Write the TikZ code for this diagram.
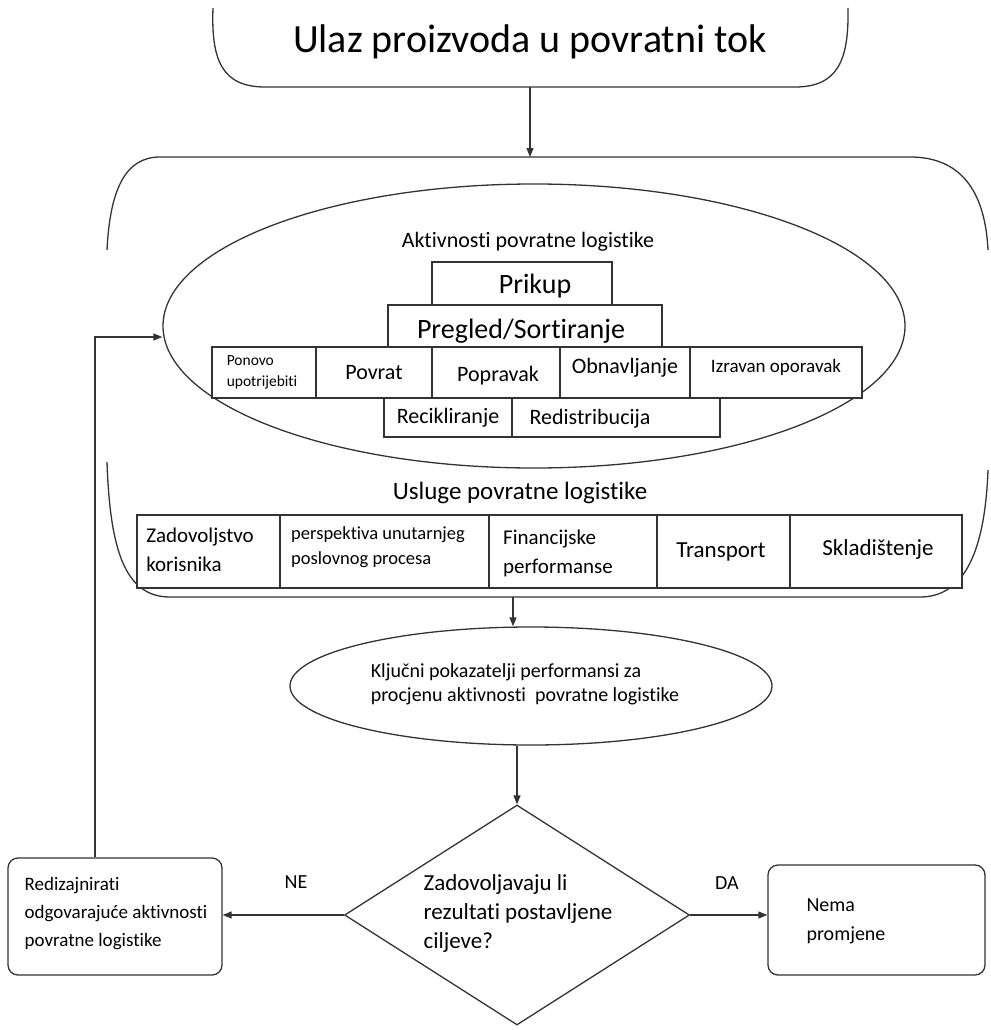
\documentclass[tikz,border=0pt]{standalone}
\usepackage{fontspec}
\setmainfont{Carlito}[Ligatures={NoCommon}]
\usetikzlibrary{shapes.geometric,arrows.meta}
\newcommand\fsz[2]{\fontsize{#1}{#2}\selectfont}
\begin{document}
\begin{tikzpicture}[x=1pt,y=-1pt,
  ln/.style={line width=1.3pt, draw=black!80},
  cell/.style={ln, fill=white, rectangle, inner sep=0pt, align=center},
  arr/.style={ln, -{Triangle[length=9pt,width=7pt]}},
  rbox/.style={ln, rectangle, rounded corners=10pt, inner sep=0pt},
  txt/.style={inner sep=0pt, align=left},
]
\useasboundingbox (0,0) rectangle (990,1030);

% top shape
\draw[ln] (213,8) .. controls (211,60) and (222,87) .. (265,87) -- (795,87) .. controls (838,87) and (849,60) .. (848,8);
\node[font=\fsz{40}{48}] (title) at (530,42) {Ulaz proizvoda u povratni tok};
\coordinate (tb) at (530,87);

% container
\coordinate (ct) at (530,157);
\draw[ln] (107,250) .. controls (110,190) and (125,157) .. (160,157) -- (910,157) .. controls (960,157) and (985,190) .. (988,250);
\draw[ln] (107,462) .. controls (110,550) and (125,597) .. (170,597) -- (920,597) .. controls (965,597) and (985,550) .. (988,470);
\coordinate (cb) at (513,597);
\draw[arr] (tb) -- (ct);

% activities ellipse
\node[ln, ellipse, minimum width=742pt, minimum height=284pt, inner sep=0pt] (act) at (534,326) {};
\node[font=\fsz{22}{26}] (acttitle) at (528,242) {Aktivnosti povratne logistike};

\node[cell, minimum width=180pt, minimum height=43pt] (prikup) at (522,283.5) {};
\node[font=\fsz{28}{32}] (prikupt) at (535,286) {Prikup};
\node[cell, minimum width=274pt, minimum height=42pt] (pregled) at (525,326) {};
\node[font=\fsz{28}{32}] (pregledt) at (521,331) {Pregled/Sortiranje};

\node[cell, minimum width=104pt, minimum height=51pt] (ponovo) at (264,372.5) {};
\node[txt, font=\fsz{15.5}{21}] (ponovot) at (262,372.5) {Ponovo\\upotrijebiti};
\node[cell, minimum width=116pt, minimum height=51pt, font=\fsz{22}{26}] (povrat) at (374,372.5) {Povrat};
\node[cell, minimum width=128pt, minimum height=51pt] (popravak) at (496,372.5) {};
\node[font=\fsz{22}{26}] (popravakt) at (498,376) {Popravak};
\node[cell, minimum width=130pt, minimum height=51pt] (obnav) at (625,372.5) {};
\node[font=\fsz{22}{26}] (obnavt) at (625,368) {Obnavljanje};
\node[cell, minimum width=172pt, minimum height=51pt] (izravan) at (776,372.5) {};
\node[font=\fsz{19}{24}] (izravant) at (776,367) {Izravan oporavak};

\node[cell, minimum width=128pt, minimum height=39pt, font=\fsz{22}{26}] (recikl) at (448,417.5) {Recikliranje};
\node[cell, minimum width=208pt, minimum height=39pt] (redistr) at (616,417.5) {};
\node[font=\fsz{22}{26}] (redistrt) at (590,419) {Redistribucija};

% services
\node[font=\fsz{25}{30}] (usluge) at (520,493) {Usluge povratne logistike};
\node[cell, minimum width=143pt, minimum height=73pt] (zad) at (208.5,551.5) {};
\node[txt, font=\fsz{21}{29}] (zadt) at (200,550) {Zadovoljstvo\\korisnika};
\node[cell, minimum width=209pt, minimum height=73pt] (persp) at (384.5,551.5) {};
\node[txt, font=\fsz{18.5}{25}] (perspt) at (378,547) {perspektiva unutarnjeg\\poslovnog procesa};
\node[cell, minimum width=168pt, minimum height=73pt] (fin) at (573,551.5) {};
\node[txt, font=\fsz{21}{29}] (fint) at (558,553) {Financijske\\performanse};
\node[cell, minimum width=133pt, minimum height=73pt] (transp) at (723.5,551.5) {};
\node[font=\fsz{23}{26}] (transpt) at (721,552) {Transport};
\node[cell, minimum width=172pt, minimum height=73pt] (sklad) at (876,551.5) {};
\node[font=\fsz{23}{26}] (skladt) at (878,549) {Skladištenje};

% KPI
\node[ln, ellipse, minimum width=482pt, minimum height=118pt, inner sep=0pt] (kpi) at (531,686) {};
\node[txt, font=\fsz{20}{24}] (kpit) at (525,684) {Ključni pokazatelji performansi za\\procjenu aktivnosti\ \ povratne logistike};
\draw[arr] (cb) -- (kpi.north -| cb);

% decision
\node[ln, diamond, minimum width=345pt, minimum height=220pt, inner sep=0pt] (dec) at (517,915) {};
\node[txt, font=\fsz{23}{29}] (dect) at (518,913) {Zadovoljavaju li\\rezultati postavljene\\ciljeve?};
\draw[arr] (kpi.south -| dec.north) -- (dec.north);

% outcome boxes
\node[rbox, minimum width=214pt, minimum height=117pt] (redes) at (115,916.5) {};
\node[txt, font=\fsz{19}{28}] (redest) at (116,914) {Redizajnirati\\odgovarajuće aktivnosti\\povratne logistike};
\node[rbox, minimum width=217pt, minimum height=110pt] (nema) at (876.5,920) {};
\node[txt, font=\fsz{20}{29}] (nemat) at (846,921) {Nema\\promjene};

\draw[arr] (dec.west) -- (redes.east |- dec.west);
\draw[arr] (dec.east) -- (nema.west |- dec.east);
\node[font=\fsz{20}{22}] (ne) at (296,882) {NE};
\node[font=\fsz{20}{22}] (da) at (727,883) {DA};

% loop back
\coordinate (lp) at (95,337);
\draw[arr] (redes.north -| lp) -- (lp) -- (act.west |- lp);
\end{tikzpicture}
\end{document}
